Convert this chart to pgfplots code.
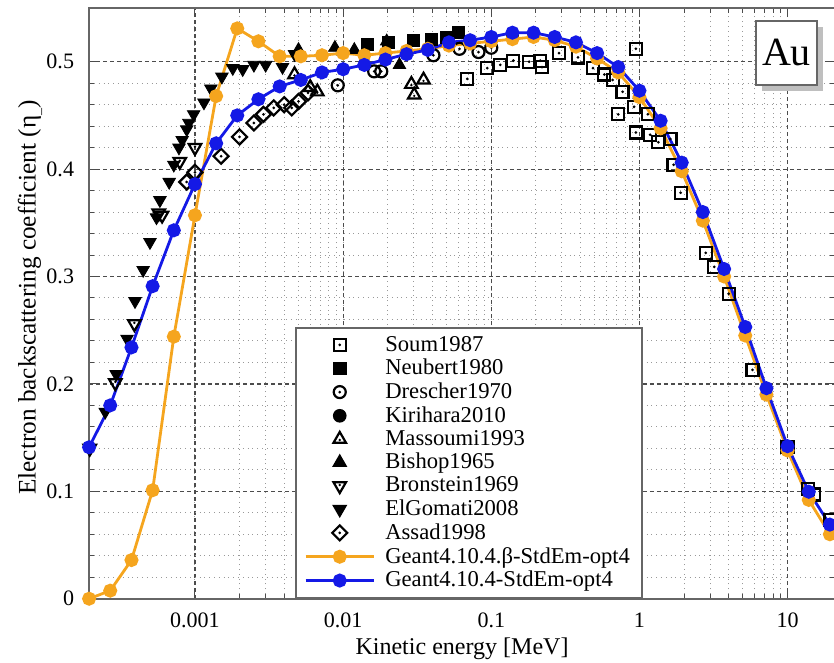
\documentclass[border=0pt]{standalone}
\usepackage{fontspec}
\setmainfont{Liberation Serif}
\usepackage{pgfplots}
\pgfplotsset{compat=1.18}
\usetikzlibrary{shadows}

\definecolor{gorange}{RGB}{245,165,30}
\definecolor{gblue}{RGB}{20,25,230}

% open marks with a dot in the middle
\pgfdeclareplotmark{sqd}{%
  \pgfpathrectangle{\pgfpoint{-\pgfplotmarksize}{-\pgfplotmarksize}}{\pgfpoint{2\pgfplotmarksize}{2\pgfplotmarksize}}%
  \pgfusepathqstroke
  \pgfpathcircle{\pgfpointorigin}{0.25\pgfplotmarksize}\pgfusepathqfill}
\pgfdeclareplotmark{circd}{%
  \pgfpathcircle{\pgfpointorigin}{\pgfplotmarksize}\pgfusepathqstroke
  \pgfpathcircle{\pgfpointorigin}{0.25\pgfplotmarksize}\pgfusepathqfill}
\pgfdeclareplotmark{trid}{%
  \pgfpathmoveto{\pgfpointpolar{90}{1.2\pgfplotmarksize}}%
  \pgfpathlineto{\pgfpointpolar{210}{1.2\pgfplotmarksize}}%
  \pgfpathlineto{\pgfpointpolar{330}{1.2\pgfplotmarksize}}%
  \pgfpathclose\pgfusepathqstroke
  \pgfpathcircle{\pgfpoint{0pt}{-0.15\pgfplotmarksize}}{0.22\pgfplotmarksize}\pgfusepathqfill}
\pgfdeclareplotmark{tridd}{%
  \pgfpathmoveto{\pgfpointpolar{270}{1.2\pgfplotmarksize}}%
  \pgfpathlineto{\pgfpointpolar{30}{1.2\pgfplotmarksize}}%
  \pgfpathlineto{\pgfpointpolar{150}{1.2\pgfplotmarksize}}%
  \pgfpathclose\pgfusepathqstroke
  \pgfpathcircle{\pgfpoint{0pt}{0.15\pgfplotmarksize}}{0.22\pgfplotmarksize}\pgfusepathqfill}
\pgfdeclareplotmark{diad}{%
  \pgfpathmoveto{\pgfpoint{0pt}{1.25\pgfplotmarksize}}%
  \pgfpathlineto{\pgfpoint{1.25\pgfplotmarksize}{0pt}}%
  \pgfpathlineto{\pgfpoint{0pt}{-1.25\pgfplotmarksize}}%
  \pgfpathlineto{\pgfpoint{-1.25\pgfplotmarksize}{0pt}}%
  \pgfpathclose\pgfusepathqstroke
  \pgfpathcircle{\pgfpointorigin}{0.25\pgfplotmarksize}\pgfusepathqfill}

\begin{document}
\begin{tikzpicture}
\begin{axis}[
    scale only axis,
    width=372.5pt, height=295pt,
    xmode=log,
    xmin=0.000193, xmax=20.9,
    ymin=0, ymax=0.55,
    xtick={0.001,0.01,0.1,1,10},
    xticklabels={0.001,0.01,0.1,1,10},
    ytick={0,0.1,0.2,0.3,0.4,0.5},
    yticklabels={0,0.1,0.2,0.3,0.4,0.5},
    minor y tick num=4,
    grid=both,
    major grid style={dash pattern=on 2pt off 1.5pt, black!70, line width=0.6pt},
    minor grid style={dotted, black!40, line width=0.5pt},
    tick style={black!70, line width=0.5pt},
    axis line style={black!60, line width=0.8pt},
    major tick length=4pt, minor tick length=2.5pt,
    tick label style={font=\fontsize{11}{12}\selectfont},
    xticklabel style={yshift=-3.5pt},
    yticklabel style={xshift=-4pt},
    /pgf/number format/assume math mode=true,
    xlabel={Kinetic energy [MeV]},
    ylabel={Electron backscattering coefficient (η\raisebox{-0.4ex}{\scriptsize\_})},
    xlabel style={font=\fontsize{12}{13}\selectfont, at={(axis description cs:0.5,-0.0847)}, anchor=center},
    ylabel style={font=\fontsize{12.6}{13}\selectfont, at={(axis description cs:-0.0792,0.51)}, anchor=center},
    clip=false,
    legend cell align=left,
    legend style={at={(0.2765,0.0)}, anchor=south west,
        draw=black!60, line width=0.8pt, fill=white,
        font=\fontsize{11.3}{12}\selectfont,
        row sep=-1.5pt, inner xsep=4pt, inner ysep=2pt,
        /tikz/every odd column/.append style={column sep=3pt}},
    legend image code/.code={%
        \draw[mark repeat=2, mark phase=2] plot coordinates {(0cm,0cm) (0.6cm,0cm) (1.2cm,0cm)};},
    every axis plot/.append style={mark options={solid}},
]

% Soum1987
\addplot[only marks, mark=sqd, mark size=3pt, black, line width=1.1pt] coordinates {
(0.0689,0.484) (0.094,0.494) (0.115,0.497) (0.141,0.501) (0.18,0.500) (0.214,0.501) (0.22,0.495)
(0.287,0.508) (0.385,0.504) (0.486,0.494) (0.58,0.488) (0.66,0.483) (0.77,0.472) (0.72,0.451)
(0.946,0.512) (0.946,0.434) (0.92,0.458) (1.18,0.432) (1.34,0.425) (1.62,0.428) (1.14,0.451)
(1.7,0.404) (1.9,0.378) (2.8,0.322) (3.2,0.309) (4.0,0.284) (5.8,0.213) (10,0.141)
(13.8,0.102) (15,0.097) (19.5,0.073)
};
\addlegendentry{Soum1987}

% Neubert1980
\addplot[only marks, mark=square*, mark size=3pt, black] coordinates {
(0.0146,0.516) (0.0202,0.518) (0.0298,0.520) (0.0394,0.521) (0.0497,0.523) (0.06,0.527)
};
\addlegendentry{Neubert1980}

% Drescher1970
\addplot[only marks, mark=circd, mark size=3pt, black, line width=1.1pt] coordinates {
(0.0092,0.478) (0.0162,0.491) (0.0181,0.491) (0.0407,0.506) (0.061,0.512) (0.082,0.509) (0.1,0.513)
};
\addlegendentry{Drescher1970}

% Kirihara2010
\addplot[only marks, mark=*, mark size=3pt, black] coordinates {
(0.139,0.524) (0.193,0.525)
};
\addlegendentry{Kirihara2010}

% Massoumi1993
\addplot[only marks, mark=trid, mark size=3pt, black, line width=1.1pt] coordinates {
(0.0047,0.488) (0.0060,0.476) (0.0067,0.472) (0.0289,0.479) (0.0349,0.483) (0.0302,0.469)
};
\addlegendentry{Massoumi1993}

% Bishop1965
\addplot[only marks, mark=triangle*, mark size=3.6pt, black] coordinates {
(0.005,0.511) (0.0088,0.513) (0.0119,0.511) (0.0197,0.519) (0.024,0.497)
};
\addlegendentry{Bishop1965}

% Bronstein1969
\addplot[only marks, mark=tridd, mark size=3pt, black, line width=1.1pt] coordinates {
(0.000195,0.140) (0.00029,0.201) (0.00039,0.256) (0.00057,0.359) (0.0006,0.357)
(0.00079,0.407) (0.001,0.420)
};
\addlegendentry{Bronstein1969}

% ElGomati2008
\addplot[only marks, mark=triangle*, mark size=3.6pt, black, mark options={rotate=180}] coordinates {
(0.000248,0.174) (0.000294,0.209) (0.000348,0.242) (0.000394,0.277) (0.000447,0.306)
(0.000497,0.332) (0.00055,0.355) (0.00058,0.371) (0.00067,0.388) (0.00072,0.404)
(0.00078,0.420) (0.00082,0.427) (0.00088,0.437) (0.00091,0.443) (0.00098,0.451)
(0.00115,0.462) (0.00128,0.475) (0.00152,0.486) (0.0018,0.494) (0.0021,0.493)
(0.0025,0.497) (0.003,0.497) (0.0039,0.495) (0.0047,0.507)
};
\addlegendentry{ElGomati2008}

% Assad1998
\addplot[only marks, mark=diad, mark size=3pt, black, line width=1.1pt] coordinates {
(0.00088,0.388) (0.001,0.397) (0.0015,0.412) (0.002,0.430) (0.0025,0.443) (0.0029,0.451)
(0.0034,0.457) (0.004,0.460) (0.0045,0.457) (0.005,0.463) (0.0058,0.471)
};
\addlegendentry{Assad1998}

% Geant4.10.4.beta
\addplot[gorange, line width=1.4pt, mark=*, mark size=2.8pt] coordinates {
(0.000193,0) (0.000268,0.0075) (0.000373,0.036) (0.000518,0.101) (0.00072,0.244)
(0.001,0.357) (0.00139,0.468) (0.00193,0.531) (0.00268,0.519) (0.00373,0.505)
(0.00518,0.505) (0.0072,0.506) (0.01,0.508) (0.0139,0.506) (0.0193,0.508)
(0.0268,0.510) (0.0373,0.512) (0.0518,0.515) (0.072,0.517) (0.1,0.519)
(0.139,0.521) (0.193,0.523) (0.268,0.520) (0.373,0.514) (0.518,0.503)
(0.72,0.490) (1,0.467) (1.39,0.438) (1.93,0.398) (2.68,0.352)
(3.73,0.300) (5.18,0.245) (7.2,0.190) (10,0.138) (13.9,0.092) (19.3,0.060)
};
\addlegendentry{Geant4.10.4.β-StdEm-opt4}

% Geant4.10.4
\addplot[gblue, line width=1.4pt, mark=*, mark size=2.8pt] coordinates {
(0.000193,0.141) (0.000268,0.180) (0.000373,0.234) (0.000518,0.291) (0.00072,0.343)
(0.001,0.386) (0.00139,0.424) (0.00193,0.450) (0.00268,0.465) (0.00373,0.477)
(0.00518,0.483) (0.0072,0.490) (0.01,0.493) (0.0139,0.497) (0.0193,0.502)
(0.0268,0.507) (0.0373,0.511) (0.0518,0.518) (0.072,0.520) (0.1,0.523)
(0.139,0.527) (0.193,0.527) (0.268,0.523) (0.373,0.518) (0.518,0.508)
(0.72,0.495) (1,0.473) (1.39,0.445) (1.93,0.406) (2.68,0.360)
(3.73,0.307) (5.18,0.253) (7.2,0.196) (10,0.142) (13.9,0.0996) (19.3,0.069)
};
\addlegendentry{Geant4.10.4-StdEm-opt4}

\node[draw=black!60, line width=0.8pt, fill=white, minimum width=30.5pt, minimum height=32pt,
      inner sep=0pt, font=\fontsize{20}{22}\selectfont,
      drop shadow={shadow xshift=3pt, shadow yshift=-3pt, fill=black!25, opacity=1}]
  at (rel axis cs:0.935,0.924) {Au};
\coordinate (bl) at (rel axis cs:0,0);
\coordinate (tr) at (rel axis cs:1,1);
\end{axis}
\pgfresetboundingbox
\path ([xshift=-44.5pt,yshift=-32pt]bl) rectangle ([xshift=-0.5pt,yshift=4pt]tr);
\end{tikzpicture}
\end{document}
